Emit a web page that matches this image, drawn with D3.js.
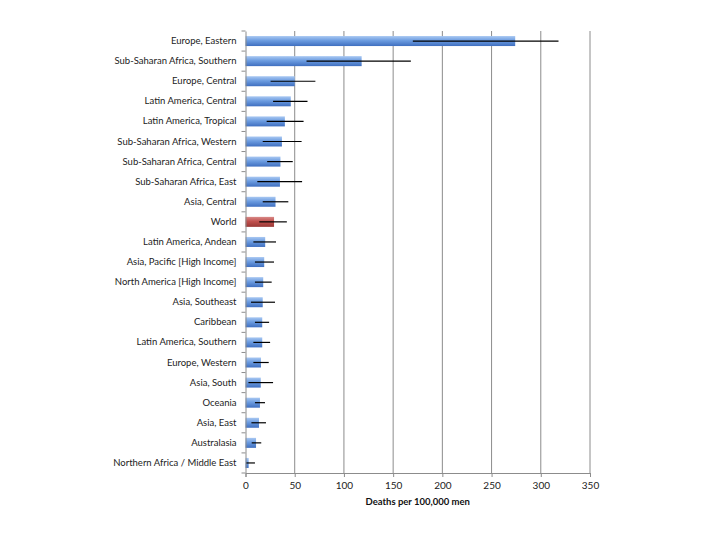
<!DOCTYPE html>
<html><head><meta charset="utf-8">
<script src="https://cdn.jsdelivr.net/npm/d3@7"></script>
<style>body{margin:0;background:#fff}svg{display:block}</style>
</head><body>
<script>
const categories = ["Europe, Eastern","Sub-Saharan Africa, Southern","Europe, Central","Latin America, Central","Latin America, Tropical","Sub-Saharan Africa, Western","Sub-Saharan Africa, Central","Sub-Saharan Africa, East","Asia, Central","World","Latin America, Andean","Asia, Pacific [High Income]","North America [High Income]","Asia, Southeast","Caribbean","Latin America, Southern","Europe, Western","Asia, South","Oceania","Asia, East","Australasia","Northern Africa / Middle East"];
const values = [274,118,50,46,40,37,35.5,35,30.5,29,20,19,18,17.5,17,17,15.7,15.5,14.7,13.7,10.7,3.2];
const lower  = [170,62,25.5,28,21.5,17.5,22,12,17.5,14,8,9.6,9.6,5.6,9.6,8,8,3,9.6,6,6.3,0.5];
const upper  = [318,168,71,63,59,57,48,57.5,43.5,42,31,29,26.6,30,24,25,23.6,28,19.8,20.8,16,9.6];
const xTicks = [0,50,100,150,200,250,300,350];
const highlight = "World";

const W=720,H=540;
const m={left:245.5,right:130,top:31,bottom:67};
const svg=d3.select("body").append("svg").attr("width",W).attr("height",H);
const defs=svg.append("defs");
function grad(id,c1,c2,c3){
  const g=defs.append("linearGradient").attr("id",id).attr("x1",0).attr("y1",0).attr("x2",0).attr("y2",1);
  g.append("stop").attr("offset","0%").attr("stop-color",c1);
  g.append("stop").attr("offset","45%").attr("stop-color",c2);
  g.append("stop").attr("offset","100%").attr("stop-color",c3);
}
grad("gb","#a9c8f2","#6c9ce0","#3f6fc0");
grad("gr","#d98a88","#c0504d","#9a3835");

const x=d3.scaleLinear().domain([0,350]).range([m.left,W-m.right]);
const y=d3.scaleBand().domain(categories).range([m.top,H-m.bottom]);

// gridlines
svg.append("g").selectAll("line").data(xTicks.slice(1)).join("line")
  .attr("x1",d=>x(d)).attr("x2",d=>x(d)).attr("y1",m.top).attr("y2",H-m.bottom)
  .attr("stroke","#8c8c8c").attr("stroke-width",1);

// bars
const bh=10;
svg.append("g").selectAll("rect").data(categories).join("rect")
  .attr("x",x(0)).attr("y",d=>y(d)+y.bandwidth()/2-bh/2)
  .attr("width",(d,i)=>x(values[i])-x(0)).attr("height",bh)
  .attr("fill",d=>d===highlight?"url(#gr)":"url(#gb)");

// error bars
svg.append("g").selectAll("line").data(categories).join("line")
  .attr("x1",(d,i)=>x(lower[i])).attr("x2",(d,i)=>x(upper[i]))
  .attr("y1",d=>y(d)+y.bandwidth()/2).attr("y2",d=>y(d)+y.bandwidth()/2)
  .attr("stroke","#000").attr("stroke-width",1.2);

// x axis
const xa=svg.append("g").attr("transform",`translate(0,${H-m.bottom})`)
  .call(d3.axisBottom(x).tickValues(xTicks).tickSize(4).tickFormat(d3.format("d")));
xa.select(".domain").attr("stroke","#8c8c8c");
xa.selectAll(".tick line").attr("stroke","#8c8c8c");
xa.selectAll("text").attr("font-family","Lato, sans-serif").attr("font-size",10).attr("fill","#222").attr("dy","0.9em");

// y axis
const ya=svg.append("g").attr("transform",`translate(${m.left},0)`)
  .call(d3.axisLeft(y).tickSize(0).tickPadding(9));
ya.select(".domain").attr("stroke","#8c8c8c");
ya.selectAll("text").attr("font-family","Lato, sans-serif").attr("font-size",9.5).attr("fill","#222");
// category boundary ticks
svg.append("g").selectAll("line").data(d3.range(categories.length+1)).join("line")
  .attr("x1",m.left-4).attr("x2",m.left)
  .attr("y1",i=>m.top+i*y.step()).attr("y2",i=>m.top+i*y.step())
  .attr("stroke","#8c8c8c");

svg.append("text").attr("x",(x(0)+x(350))/2).attr("y",505).attr("text-anchor","middle")
  .attr("font-family","Lato, sans-serif").attr("font-size",9.5).attr("font-weight","bold").attr("fill","#111")
  .text("Deaths per 100,000 men");
</script>
</body></html>
